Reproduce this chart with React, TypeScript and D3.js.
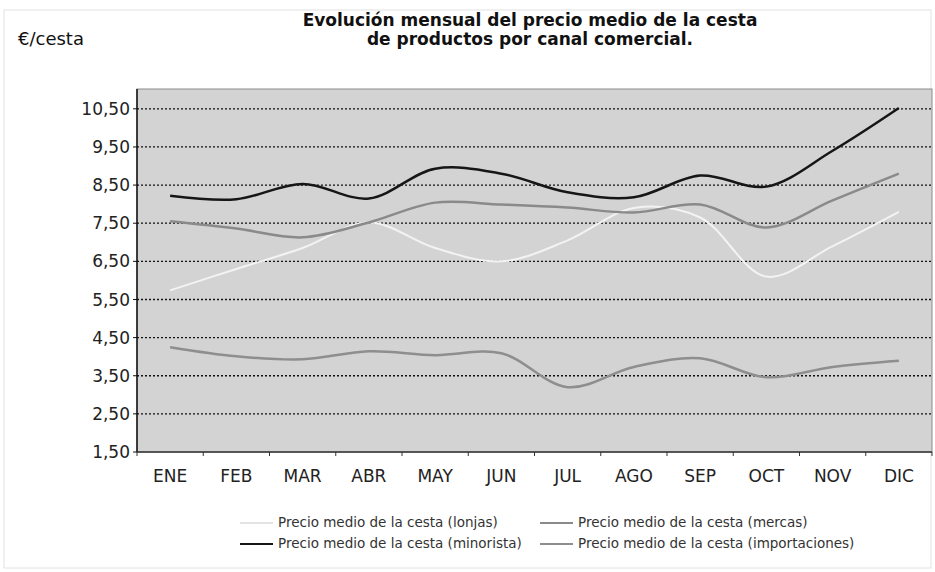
import * as d3 from 'd3';

const months = ['ENE', 'FEB', 'MAR', 'ABR', 'MAY', 'JUN', 'JUL', 'AGO', 'SEP', 'OCT', 'NOV', 'DIC'];
const lonjas = [5.74, 6.3, 6.85, 7.52, 6.85, 6.5, 7.05, 7.9, 7.65, 6.1, 6.9, 7.8];
const mercas = [7.55, 7.36, 7.13, 7.52, 8.04, 7.99, 7.91, 7.78, 7.99, 7.39, 8.1, 8.8];
const minorista = [8.22, 8.13, 8.53, 8.15, 8.93, 8.8, 8.31, 8.18, 8.75, 8.46, 9.4, 10.52];
const importaciones = [4.25, 4.01, 3.93, 4.14, 4.04, 4.09, 3.2, 3.73, 3.96, 3.46, 3.73, 3.89];
const yTicks = [1.5, 2.5, 3.5, 4.5, 5.5, 6.5, 7.5, 8.5, 9.5, 10.5];

const series = [
  { name: 'Precio medio de la cesta (lonjas)', values: lonjas, color: '#f3f3f3', width: 2 },
  { name: 'Precio medio de la cesta (mercas)', values: mercas, color: '#8a8a8a', width: 2.5 },
  { name: 'Precio medio de la cesta (minorista)', values: minorista, color: '#161616', width: 2.5 },
  { name: 'Precio medio de la cesta (importaciones)', values: importaciones, color: '#8e8e8e', width: 2.5 },
];

export default function App() {
  const width = 935;
  const height = 572;
  const marginLeft = 137;
  const marginRight = 3;
  const marginTop = 89;
  const marginBottom = 120;
  const font = 'DejaVu Sans, Verdana, sans-serif';

  // escala de categorías (meses)
  const x = d3.scaleBand().domain(months).range([marginLeft, width - marginRight]);
  const y = d3
    .scaleLinear()
    .domain([1.5, 11.02])
    .range([height - marginBottom, marginTop]);

  const line = d3
    .line<number>()
    .x((_, i) => x(months[i])! + x.bandwidth() / 2)
    .y((d) => y(d))
    .curve(d3.curveCatmullRom.alpha(0.5));

  const fmt = (v: number) => v.toFixed(2).replace('.', ',');
  const bottom = height - marginBottom;
  const right = width - marginRight;

  // posiciones de la leyenda
  const legend = [
    { s: series[0], lx: 240, ly: 527 },
    { s: series[1], lx: 540, ly: 527 },
    { s: series[2], lx: 240, ly: 548 },
    { s: series[3], lx: 540, ly: 548 },
  ];

  return (
    <svg
      width={width}
      height={height}
      style={{ position: 'absolute', left: 0, top: 0, background: '#fff' }}
      fontFamily={font}
    >
      <rect x={4} y={10} width={width - 8} height={height - 14} fill="none" stroke="#e2e2e2" />

      <text x={530} y={26} textAnchor="middle" fontSize={17} fontWeight="bold" fill="#111">
        Evolución mensual del precio medio de la cesta
      </text>
      <text x={530} y={45} textAnchor="middle" fontSize={17} fontWeight="bold" fill="#111">
        de productos por canal comercial.
      </text>
      <text x={18} y={45} fontSize={18} fill="#111">
        €/cesta
      </text>

      {/* área del gráfico */}
      <rect
        x={marginLeft}
        y={marginTop}
        width={right - marginLeft}
        height={bottom - marginTop}
        fill="#d3d3d3"
        stroke="#8c8c8c"
      />

      {/* líneas de cuadrícula punteadas */}
      {yTicks.slice(1).map((t) => (
        <line
          key={t}
          x1={marginLeft}
          x2={right}
          y1={y(t)}
          y2={y(t)}
          stroke="#111"
          strokeWidth={1.3}
          strokeDasharray="2 2"
        />
      ))}

      {/* eje Y */}
      <line x1={marginLeft} x2={marginLeft} y1={marginTop} y2={bottom} stroke="#111" strokeWidth={1.5} />
      {yTicks.map((t) => (
        <g key={t}>
          <line x1={marginLeft - 4} x2={marginLeft} y1={y(t)} y2={y(t)} stroke="#111" />
          <text x={marginLeft - 7} y={y(t)} dy="0.36em" textAnchor="end" fontSize={17} fill="#222">
            {fmt(t)}
          </text>
        </g>
      ))}

      {/* eje X */}
      <line x1={marginLeft} x2={right} y1={bottom} y2={bottom} stroke="#333" strokeWidth={1.5} />
      {months.map((m) => (
        <g key={m}>
          <line x1={x(m)!} x2={x(m)!} y1={bottom} y2={bottom + 4} stroke="#333" />
          <text x={x(m)! + x.bandwidth() / 2} y={482} textAnchor="middle" fontSize={17} fill="#222">
            {m}
          </text>
        </g>
      ))}
      <line x1={right} x2={right} y1={bottom} y2={bottom + 4} stroke="#333" />

      {/* series */}
      {series.map((s) => (
        <path
          key={s.name}
          d={line(s.values) ?? ''}
          fill="none"
          stroke={s.color}
          strokeWidth={s.width}
          strokeLinejoin="round"
        />
      ))}

      {/* leyenda */}
      {legend.map(({ s, lx, ly }) => (
        <g key={s.name}>
          <line x1={lx} x2={lx + 33} y1={ly - 4} y2={ly - 4} stroke={s.color === '#f3f3f3' ? '#e4e4e4' : s.color} strokeWidth={2} />
          <text x={lx + 38} y={ly} fontSize={13.5} fill="#333">
            {s.name}
          </text>
        </g>
      ))}
    </svg>
  );
}
